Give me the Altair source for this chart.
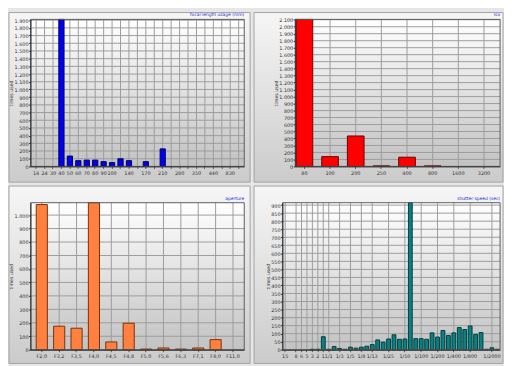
import altair as alt
import pandas as pd

FONT = "DejaVu Sans"

# ---------------- data ----------------
focal_cats = ["14", "24", "30", "40", "50", "60", "70", "80", "90", "100", "120", "140", "155",
              "170", "190", "210", "250", "280", "300", "350", "400", "440", "600", "830", "1000"]
focal_shown = ["14", "24", "30", "40", "50", "60", "70", "80", "90", "100", "140", "170", "210",
               "280", "350", "440", "830"]
focal_vals = [0, 0, 0, 1910, 135, 75, 82, 82, 62, 50, 100, 75, 0,
              62, 0, 228, 0, 0, 0, 0, 0, 0, 0, 0, 0]

iso_cats = ["80", "100", "200", "250", "400", "800", "1600", "3200"]
iso_vals = [2105, 140, 436, 8, 132, 8, 0, 0]

ap_cats = ["F2,0", "F3,2", "F3,5", "F4,0", "F4,5", "F4,8", "F5,0", "F5,6", "F6,3", "F7,1", "F8,0", "F11,0"]
ap_vals = [1078, 175, 160, 1092, 58, 197, 5, 13, 5, 13, 75, 0]

sh_cats = ["15", "10", "8", "6", "5", "3", "2", "1", "1/1", "1/2", "1/3", "1/4", "1/5", "1/6", "1/8",
           "1/10", "1/13", "1/15", "1/20", "1/25", "1/30", "1/40", "1/50", "1/60", "1/80", "1/100",
           "1/125", "1/160", "1/200", "1/250", "1/320", "1/400", "1/500", "1/640", "1/800", "1/1000",
           "1/1250", "1/1600", "1/2000", "1/2500"]
sh_shown = ["15", "8", "6", "5", "3", "2", "1", "1/1", "1/3", "1/5", "1/8", "1/13", "1/25", "1/50",
            "1/100", "1/200", "1/400", "1/800", "1/2000"]
sh_vals = [0, 0, 0, 0, 0, 3, 3, 81, 3, 20, 8, 3, 16, 10, 16,
           22, 32, 61, 47, 67, 93, 65, 67, 915, 69, 69,
           65, 105, 79, 120, 89, 105, 138, 126, 148, 95,
           107, 3, 12, 3]

focal_ticks = list(range(0, 2000, 100))
iso_ticks = list(range(0, 2200, 100))
ap_ticks = list(range(0, 1100, 100))
sh_ticks = list(range(0, 950, 50))


def vgrad(top, bottom):
    return alt.LinearGradient(
        gradient="linear",
        stops=[alt.GradientStop(color=top, offset=0),
               alt.GradientStop(color=bottom, offset=1)],
        x1=0, x2=0, y1=0, y2=1,
    )


PLOT_GRAD = vgrad("#ffffff", "#c2c2c2")
TILE_GRAD = vgrad("#f6f6f6", "#cbcbcb")

Y_LABEL_EXPR = "replace(format(datum.value, ','), ',', '.')"


def panel(cats, vals, title, fill, stroke, ymax, yticks, width, pi, po, align,
          grid_cats, tile, shown=None):
    df = pd.DataFrame({"cat": cats, "val": vals})
    bars_df = df[df["val"] > 0]
    xscale = alt.Scale(domain=cats, paddingInner=pi, paddingOuter=po, align=align)
    yscale = alt.Scale(domain=[0, ymax], nice=False)

    if shown is not None:
        lab = "indexof(" + str(shown).replace("'", '"') + ", datum.value) >= 0 ? datum.value : ''"
    else:
        lab = "datum.value"

    xaxis = alt.Axis(title=None, grid=False, labelExpr=lab, labelAngle=0, labelFont=FONT,
                     labelFontSize=5, labelColor="#333333", tickSize=2, tickColor="#555555",
                     domainColor="#303030", labelPadding=2, zindex=1, bandPosition=0.5,
                     values=grid_cats, labelOverlap=False)
    yaxis = alt.Axis(title="times used", grid=False, values=yticks, labelExpr=Y_LABEL_EXPR,
                     labelFont=FONT, labelFontSize=5, labelColor="#333333", tickSize=2,
                     tickColor="#333333", domainColor="#303030", labelPadding=0.5,
                     titleFont=FONT, titleFontSize=4.8, titleFontWeight="normal",
                     titleColor="#333333", titlePadding=0.5, zindex=1, labelOverlap=False)

    base_one = pd.DataFrame({"a": [0]})
    tx1, tx2, ty1, ty2 = tile
    tile_rect = alt.Chart(base_one).mark_rect(fill=TILE_GRAD, stroke="#a2a2a2", strokeWidth=1).encode(
        x=alt.value(tx1), x2=alt.value(tx2), y=alt.value(ty1), y2=alt.value(ty2))
    bg = alt.Chart(base_one).mark_rect(fill=PLOT_GRAD).encode(
        x=alt.value(0), x2=alt.value("width"), y=alt.value(0), y2=alt.value("height"))

    vgrid = alt.Chart(pd.DataFrame({"cat": grid_cats})).mark_rule(
        color="#9c9c9c", strokeWidth=1).encode(x=alt.X("cat:N", scale=xscale, axis=xaxis))
    hgrid = alt.Chart(pd.DataFrame({"val": yticks})).mark_rule(
        color="#9c9c9c", strokeWidth=1).encode(y=alt.Y("val:Q", scale=yscale, axis=yaxis))

    bars = alt.Chart(bars_df).mark_bar(fill=fill, stroke=stroke, strokeWidth=1).encode(
        x=alt.X("cat:N", scale=xscale, axis=xaxis),
        y=alt.Y("val:Q", scale=yscale, axis=yaxis),
    )
    frame = alt.Chart(base_one).mark_rect(fill="transparent", stroke="#5a5a5a",
                                          strokeWidth=1).encode(
        x=alt.value(0), x2=alt.value("width"), y=alt.value(0), y2=alt.value("height"))

    # title sits inside the tile: pull it down by the tile's top margin
    title_offset = ty1 + 2.0

    return alt.layer(tile_rect, bg, vgrid, hgrid, bars, frame).properties(
        width=width, height=150,
        title=alt.TitleParams(title, anchor="end", frame="group", font=FONT, fontSize=4.5,
                              fontWeight="normal", color="#2a2ad0", offset=title_offset),
    )


p1 = panel(focal_cats, focal_vals, "focal length usage (mm)", "#0000f0", "#00005a",
           1910, focal_ticks, 218, 0.38, 0.35, 0.5, focal_cats, (-22, 224, -7, 166), shown=focal_shown)
p2 = panel(iso_cats, iso_vals, "iso", "#ff0000", "#6a0000",
           2105, iso_ticks, 209, 0.35, 0.168, 0.1, iso_cats, (-42, 212, -7, 166))
p3 = panel(ap_cats, ap_vals, "aperture", "#ff8040", "#7a3000",
           1092, ap_ticks, 218, 0.36, 0.327, 0.5, ap_cats, (-22, 224, -17, 164))
p4 = panel(sh_cats, sh_vals, "shutter speed (sec)", "#0a8080", "#003c3c",
           915, sh_ticks, 222, 0.3, 0.15, 0.5, sh_shown, (-29, 225, -17, 164), shown=sh_shown)

row1 = alt.hconcat(p1, p2, spacing=2)
row2 = alt.hconcat(p3, p4, spacing=2)
chart = alt.vconcat(row1, row2, spacing=2).properties(
    padding=0, background="#e6e6e6"
).configure_view(stroke=None)

chart.save("out.html", embed_options={"renderer": "svg", "actions": False})
